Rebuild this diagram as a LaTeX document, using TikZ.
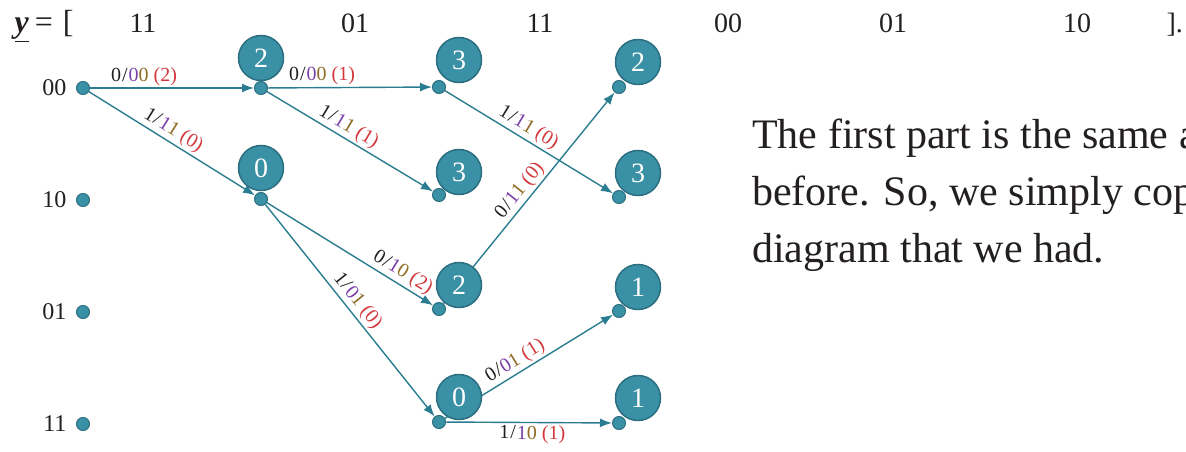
\documentclass[tikz,border=0pt]{standalone}
\usepackage{fontspec}
\setmainfont{Liberation Serif}
\usetikzlibrary{arrows.meta}
\definecolor{tealfill}{HTML}{3A90A4}
\definecolor{tealdark}{HTML}{2C6F80}
\definecolor{edgec}{HTML}{2A7D90}
\definecolor{purp}{HTML}{7A3FA8}
\definecolor{brn}{HTML}{8F6B24}
\definecolor{redc}{HTML}{D2373C}
\definecolor{txt}{HTML}{231F20}
\newcommand\trl[4]{#1\kern1pt/\kern1pt\textcolor{purp}{#2}\textcolor{brn}{#3} \textcolor{redc}{(#4)}}
\begin{document}
\begin{tikzpicture}[x=1pt,y=-1pt,
 dot/.style={circle,fill=tealfill,draw=tealdark,line width=1pt,minimum size=13pt,inner sep=0pt},
 big/.style={circle,fill=tealfill,draw=tealdark,line width=1.5pt,minimum size=45pt,inner sep=0pt,text=white,font=\fontsize{28}{28}\selectfont},
 edge/.style={draw=edgec,line width=1.4pt,-{Latex[length=12pt,width=9pt]}},
 lbl/.style={font=\fontsize{20}{20}\selectfont,text=txt,inner sep=2pt,sloped},
 state/.style={font=\fontsize{24}{24}\selectfont,text=txt,anchor=east},
 topnum/.style={font=\fontsize{28}{28}\selectfont,text=txt,anchor=base}]
\useasboundingbox (0,0) rectangle (1186,452);
\clip (0,0) rectangle (1186,452);
% top row
\node[topnum,anchor=base west,font=\fontsize{32}{32}\selectfont] (yv) at (11,33) {\underline{\textbf{\textit{y}}}\kern6pt=\kern10pt[};
\node[topnum] (t1) at (143,33) {11};
\node[topnum] (t2) at (355,33) {01};
\node[topnum] (t3) at (540,33) {11};
\node[topnum] (t4) at (728,33) {00};
\node[topnum] (t5) at (893,33) {01};
\node[topnum] (t6) at (1077,33) {10};
\node[topnum,anchor=base west] (tend) at (1163,33) {].};
% state labels
\node[state] (s00) at (70,88) {00};
\node[state] (s10) at (70,200) {10};
\node[state] (s01) at (70,312) {01};
\node[state] (s11) at (70,424) {11};
% dots
\node[dot] (a0) at (83,88) {};
\node[dot] (a1) at (83,200) {};
\node[dot] (a2) at (83,312) {};
\node[dot] (a3) at (83,424) {};
\node[dot] (b0) at (261,88) {};
\node[dot] (b1) at (261,199) {};
\node[dot] (c0) at (439,87) {};
\node[dot] (c1) at (439,195) {};
\node[dot] (c2) at (439,309) {};
\node[dot] (c3) at (439,422) {};
\node[dot] (d0) at (619,87) {};
\node[dot] (d1) at (619,197) {};
\node[dot] (d2) at (619,311) {};
\node[dot] (d3) at (619,423) {};
% edges
\draw[edge] (a0) -- node[lbl,above,pos=0.33] {\trl{0}{0}{0}{2}} (b0);
\draw[edge] (a0) -- node[lbl,above,pos=0.47] {\trl{1}{1}{1}{0}} (b1);
\draw[edge] (b0) -- node[lbl,above,pos=0.33] {\trl{0}{0}{0}{1}} (c0);
\draw[edge] (b0) -- node[lbl,above,pos=0.455] {\trl{1}{1}{1}{1}} (c1);
\draw[edge] (b1) -- node[lbl,above,pos=0.78] {\trl{0}{1}{0}{2}} (c2);
\draw[edge] (b1) -- node[lbl,above,pos=0.49] {\trl{1}{0}{1}{0}} (c3);
\draw[edge] (c0) -- node[lbl,above,pos=0.46] {\trl{1}{1}{1}{0}} (d1);
\draw[edge] (c2) -- node[lbl,above,pos=0.5] {\trl{0}{1}{1}{0}} (d0);
\draw[edge] (c3) -- node[lbl,above,pos=0.455] {\trl{0}{0}{1}{1}} (d2);
\draw[edge] (c3) -- node[lbl,below,pos=0.52] {\trl{1}{1}{0}{1}} (d3);
% metric circles
\node[big] (m10) at (261,58) {2};
\node[big] (m11) at (261,168) {0};
\node[big] (m20) at (459,60) {3};
\node[big] (m21) at (459,172) {3};
\node[big] (m22) at (459,285) {2};
\node[big] (m23) at (459,397) {0};
\node[big] (m30) at (638,62) {2};
\node[big] (m31) at (638,173) {3};
\node[big] (m32) at (638,287) {1};
\node[big] (m33) at (638,398) {1};
% paragraph
\node[anchor=base west,align=left,text=txt,inner sep=0pt,font=\fontsize{42}{57}\selectfont] (para) at (752,262)
 {The first part is the same as\\before. So, we simply copy the\\diagram that we had.};
\end{tikzpicture}
\end{document}
